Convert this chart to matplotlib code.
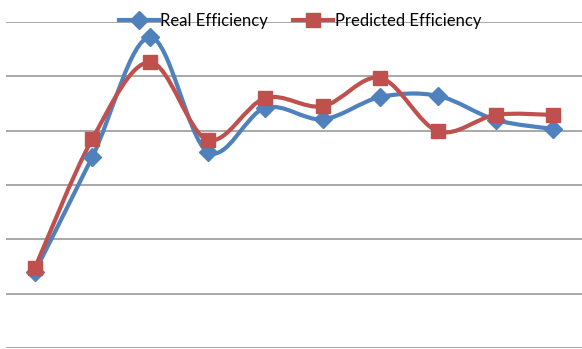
import matplotlib.pyplot as plt
import numpy as np
from matplotlib.path import Path
from matplotlib.patches import PathPatch

categories = list(range(1, 11))
real_eff = [14.0, 35.2, 57.2, 36.1, 44.2, 42.1, 46.2, 46.4, 42.0, 40.3]
pred_eff = [14.7, 38.5, 52.6, 38.3, 46.0, 44.5, 49.7, 39.9, 42.9, 42.9]
grid_vals = [0, 10, 20, 30, 40, 50, 60]

blue = '#4F81BD'
red = '#C0504D'


def smooth_path(xs, ys):
    # excel style bezier smoothing through the points
    pts = np.column_stack([xs, ys]).astype(float)
    n = len(pts)
    verts = [pts[0]]
    codes = [Path.MOVETO]
    for i in range(n - 1):
        p0 = pts[max(i - 1, 0)]
        p1 = pts[i]
        p2 = pts[i + 1]
        p3 = pts[min(i + 2, n - 1)]
        c1 = p1 + (p2 - p0) / 6
        c2 = p2 - (p3 - p1) / 6
        verts += [c1, c2, p2]
        codes += [Path.CURVE4] * 3
    return Path(verts, codes)


fig = plt.figure(figsize=(5.82, 3.49), dpi=100)
ax = fig.add_axes([6 / 582, 1 / 349, 1 - 6 / 582, 326 / 349])

x = np.arange(len(categories)) + 0.5

for v in grid_vals:
    ax.axhline(v, color='#9a9a9a', lw=1.2, zorder=1)

for vals, col, mk, ms, lab in [(real_eff, blue, 'D', 9.5, 'Real Efficiency'),
                               (pred_eff, red, 's', 10, 'Predicted Efficiency')]:
    ax.add_patch(PathPatch(smooth_path(x, vals), facecolor='none', edgecolor=col,
                           lw=3, zorder=3, capstyle='round', joinstyle='round'))
    ax.plot(x, vals, linestyle='none', marker=mk, markersize=ms, color=col,
            zorder=4, clip_on=False)
    ax.plot([], [], color=col, lw=3, marker=mk, markersize=ms, label=lab)

ax.set_xlim(0, len(categories))
ax.set_ylim(0, 60)
ax.set_xticks([])
ax.set_yticks([])
for s in ax.spines.values():
    s.set_visible(False)

leg = ax.legend(loc='center', bbox_to_anchor=(300 / 582, 1 - 21 / 349),
                bbox_transform=fig.transFigure, ncol=2, frameon=False,
                handlelength=2.4, handletextpad=0.1, columnspacing=1.5,
                prop={'family': ['Lato', 'DejaVu Sans'], 'size': 12})
leg.set_zorder(5)

fig.savefig('out.png', dpi=100)
